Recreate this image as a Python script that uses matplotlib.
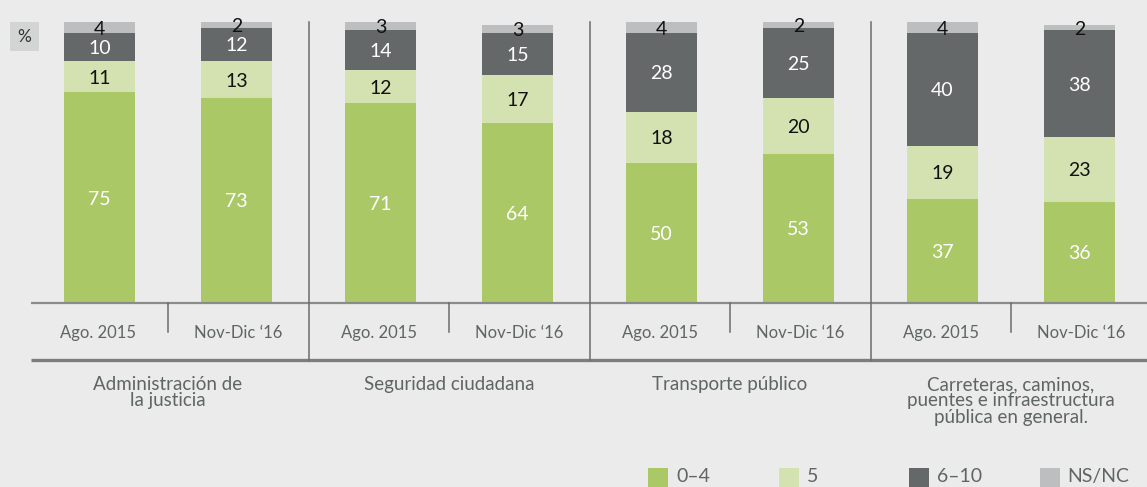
"""Stacked bars: evaluacion de servicios publicos, Ago. 2015 vs Nov-Dic '16."""

import matplotlib.pyplot as plt
import numpy as np
from matplotlib.patches import Rectangle

plt.rcParams["font.family"] = ["Lato", "DejaVu Sans"]

BG = "#ebebeb"
TXT = "#5f6465"
LINE = "#8a8c8c"
COLORS = ["#abc866", "#d4e1b1", "#656869", "#bcbebf"]
LABEL_COLORS = ["white", "#111111", "white", "#111111"]

groups = [
    "Administración de\nla justicia",
    "Seguridad ciudadana",
    "Transporte público",
    "Carreteras, caminos,\npuentes e infraestructura\npública en general.",
]
periods = ["Ago. 2015", "Nov-Dic \u201816"]
series = ["0\u20134", "5", "6\u201310", "NS/NC"]

# one value per bar: Ago. 2015 / Nov-Dic '16 for each group, in order
v_0_4 = [75, 73, 71, 64, 50, 53, 37, 36]
v_5 = [11, 13, 12, 17, 18, 20, 19, 23]
v_6_10 = [10, 12, 14, 15, 28, 25, 40, 38]
v_nsnc = [4, 2, 3, 3, 4, 2, 4, 2]

W, H = 1147, 487
fig = plt.figure(figsize=(W / 100, H / 100), dpi=100)
fig.patch.set_facecolor(BG)
ax = fig.add_axes([0, 0, 1, 1])
ax.set_facecolor(BG)
ax.axis("off")

# pixel mapping: group 0 centre at x=168 px, 281 px per group; baseline y=303, 2.81 px per %
PXX, X0 = 281.0, 168.0
PXY, Y0 = 2.81, 303.0
ax.set_xlim(-X0 / PXX, (W - X0) / PXX)
ax.set_ylim(-(H - Y0) / PXY, Y0 / PXY)

def px(x):
    return (x - X0) / PXX

def py(y):
    return (Y0 - y) / PXY

n = len(groups)
xpos = np.array([[g - 0.244, g + 0.244] for g in range(n)]).ravel()
width = 71 / PXX

bottom = np.zeros(len(xpos))
for vals, col, lcol, name in zip([v_0_4, v_5, v_6_10, v_nsnc], COLORS, LABEL_COLORS, series):
    vals = np.array(vals, dtype=float)
    ax.bar(xpos, vals, width=width, bottom=bottom, color=col, linewidth=0, label=name)
    for x, b, v in zip(xpos, bottom, vals):
        ax.text(x, b + v / 2 - 0.5, f"{v:.0f}", ha="center", va="center",
                fontsize=14, color=lcol)
    bottom += vals

# axis lines and separators
x_start = px(31)
ax.plot([x_start, px(W)], [0, 0], color=LINE, lw=1.6, solid_capstyle="butt")
ax.plot([x_start, px(W)], [py(360)] * 2, color="#7c7e7e", lw=2.4, solid_capstyle="butt")
for g in range(n):
    ax.plot([g, g], [0, py(332)], color="#6a6c6c", lw=1.1)
    for k, lab in enumerate(periods):
        ax.text(g + (k - 0.5) * 0.5, py(333), lab, ha="center", va="center",
                fontsize=12, color=TXT)
    ax.text(g, py(376), groups[g], ha="center", va="top", fontsize=13.5,
            color=TXT, linespacing=0.95)
for g in range(n - 1):
    ax.plot([g + 0.5] * 2, [100, py(360)], color="#6a6c6c", lw=1.1)

# "%" tag
ax.add_patch(Rectangle((px(10), py(51)), 29 / PXX, 29 / PXY, color="#d3d4d4", lw=0))
ax.text(px(24.5), py(36.5), "%", ha="center", va="center", fontsize=12.5, color="#333333")

# legend
for k, (name, col) in enumerate(zip(series, COLORS)):
    x0 = 648 + 130.5 * k
    ax.add_patch(Rectangle((px(x0), py(488)), 20 / PXX, 20 / PXY, color=col, lw=0,
                           clip_on=False))
    ax.text(px(x0 + 28), py(476.5), name, ha="left", va="center", fontsize=14, color=TXT)

fig.savefig("out.png", dpi=100, facecolor=BG)
plt.close(fig)
